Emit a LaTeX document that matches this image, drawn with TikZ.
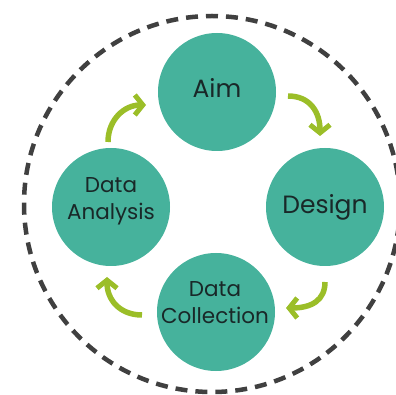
\documentclass[tikz,border=0pt]{standalone}
\usepackage{fontspec}
\setmainfont{Poppins}
\usetikzlibrary{arrows.meta}
\definecolor{teal1}{RGB}{70,178,156}
\definecolor{lime1}{RGB}{155,190,40}
\definecolor{dash1}{RGB}{64,64,64}
\definecolor{txt1}{RGB}{25,40,40}
\tikzset{
  stage/.style={circle, fill=teal1, draw=none, minimum size=118pt, inner sep=0pt},
  label1/.style={text=txt1, align=center, font=\fontsize{25}{27}\selectfont},
  label2/.style={text=txt1, align=center, font=\fontsize{21.5}{27}\selectfont},
  flow/.style={draw=lime1, line width=5.5pt, -{Straight Barb[length=8pt,width=20pt,line width=5pt]}},
  ring/.style={draw=dash1, line width=4.5pt, dash pattern=on 12pt off 8pt}
}
\begin{document}
\begin{tikzpicture}[x=1pt,y=-1pt]
\useasboundingbox (0,0) rectangle (396,395);
\draw[ring] (212,204) circle (188);
\node[stage] (aim) at (217,92) {};
\node[stage] (design) at (325,207) {};
\node[stage] (analysis) at (111,207) {};
\node[stage] (collection) at (216,312) {};
\node[label1] (aimt) at (217,88) {Aim};
\node[label1] (designt) at (325,207) {Design};
\node[label2] (analysist) at (111,201) {Data\\Analysis};
\node[label2] (collectiont) at (215,303) {Data\\Collection};
\coordinate (a1s) at (288,96);
\coordinate (a1e) at (320,136);
\coordinate (a2s) at (325,282);
\coordinate (a2e) at (286,308);
\coordinate (a3s) at (142,315);
\coordinate (a3e) at (107,277);
\coordinate (a4s) at (108,142);
\coordinate (a4e) at (146,105);
\draw[flow] (a1s) .. controls (310,96) and (320,112) .. (a1e);
\draw[flow] (a2s) .. controls (325,300) and (312,308) .. (a2e);
\draw[flow] (a3s) .. controls (120,315) and (107,300) .. (a3e);
\draw[flow] (a4s) .. controls (108,120) and (124,105) .. (a4e);
\end{tikzpicture}
\end{document}
